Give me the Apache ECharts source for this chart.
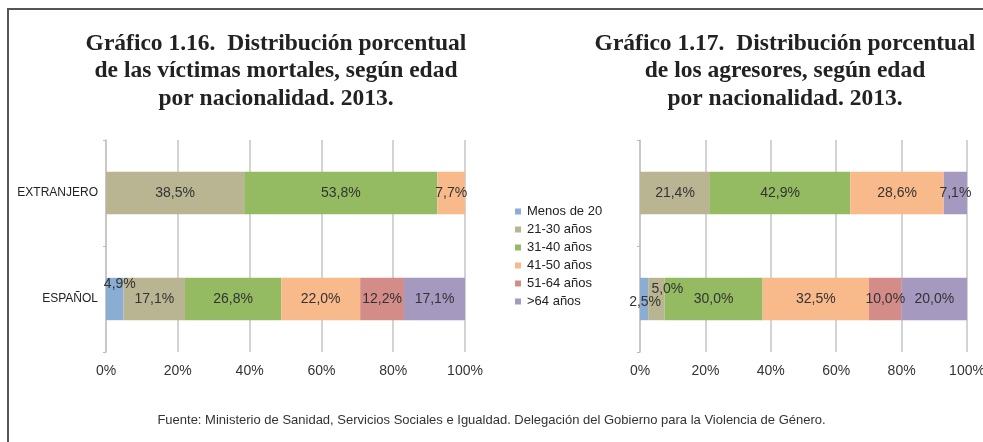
<!DOCTYPE html>
<html>
<head>
<meta charset="utf-8">
<script src="https://cdn.jsdelivr.net/npm/echarts@6/dist/echarts.min.js"></script>
<style>
  html, body { margin: 0; padding: 0; background: #fff; }
  #chart { width: 983px; height: 442px; }
</style>
</head>
<body>
<div id="chart"></div>
<script>
// categories (bottom to top, as ECharts draws a vertical category axis)
const nationalities = ['ESPAÑOL', 'EXTRANJERO'];
const ageGroups = ['Menos de 20', '21-30 años', '31-40 años', '41-50 años', '51-64 años', '>64 años'];
const colors = ['#8aadd4', '#b9b592', '#94bb62', '#f9ba8b', '#d48c89', '#a699c0'];
const xTicks = [0, 20, 40, 60, 80, 100];

// Gráfico 1.16 - víctimas mortales, [ESPAÑOL, EXTRANJERO] per age group
const victimas = [
    [4.9, 0],
    [17.1, 38.5],
    [26.8, 53.8],
    [22.0, 7.7],
    [12.2, 0],
    [17.1, 0]
];

// Gráfico 1.17 - agresores
const agresores = [
    [2.5, 0],
    [5.0, 21.4],
    [30.0, 42.9],
    [32.5, 28.6],
    [10.0, 0],
    [20.0, 7.1]
];

// a few small labels sit off-centre in the original
const labelShift = {
    '0-0-0': [5, -15],
    '1-1-0': [11, -10],
    '1-0-0': [1, 3]
};

const titleFont = '"Liberation Serif", "Times New Roman", serif';
const sansFont = '"Liberation Sans", Arial, sans-serif';

function fmt(v) {
    return v.toFixed(1).replace('.', ',') + '%';
}

function makeSeries(chartIdx, table) {
    let out = [];
    for (let g = 0; g < ageGroups.length; ++g) {
        let data = table[g].map((v, c) => {
            let item = { value: v };
            let key = chartIdx + '-' + g + '-' + c;
            if (labelShift[key]) {
                item.label = { offset: labelShift[key] };
            }
            return item;
        });
        out.push({
            name: ageGroups[g],
            type: 'bar',
            stack: 'total' + chartIdx,
            xAxisIndex: chartIdx,
            yAxisIndex: chartIdx,
            barWidth: '40%',
            itemStyle: { color: colors[g] },
            label: {
                show: true,
                position: 'inside',
                color: '#333',
                fontFamily: sansFont,
                fontSize: 14,
                formatter: p => p.value > 0 ? fmt(p.value) : ''
            },
            emphasis: { disabled: true },
            data: data
        });
    }
    return out;
}

function xAxisFor(idx) {
    return {
        type: 'value',
        gridIndex: idx,
        min: 0,
        max: 100,
        interval: 20,
        axisLine: { show: false },
        axisTick: { show: false },
        axisLabel: {
            formatter: v => xTicks.includes(v) ? v + '%' : '',
            color: '#333',
            fontFamily: sansFont,
            fontSize: 14,
            margin: 12
        },
        splitLine: { lineStyle: { color: '#c4c4c4', width: 1.5 } }
    };
}

function yAxisFor(idx, showLabels) {
    return {
        type: 'category',
        gridIndex: idx,
        data: nationalities,
        axisLine: { show: true, lineStyle: { color: '#c4c4c4', width: 1.5 } },
        axisTick: { show: true, length: 3, lineStyle: { color: '#bbb' } },
        axisLabel: {
            show: showLabels,
            color: '#222',
            fontFamily: sansFont,
            fontSize: 12,
            margin: 8
        }
    };
}

let titleStyle = {
    fontFamily: titleFont,
    fontWeight: 'bold',
    fontSize: 23.5,
    lineHeight: 27.5,
    color: '#222'
};

let myChart = echarts.init(document.getElementById('chart'));
myChart.setOption({
    animation: false,
    title: [{
        text: 'Gráfico 1.16.  Distribución porcentual\nde las víctimas mortales, según edad\npor nacionalidad. 2013.',
        left: 271,
        top: 25,
        textAlign: 'center',
        textStyle: titleStyle
    }, {
        text: 'Gráfico 1.17.  Distribución porcentual\nde los agresores, según edad\npor nacionalidad. 2013.',
        left: 780,
        top: 25,
        textAlign: 'center',
        textStyle: titleStyle
    }],
    legend: {
        orient: 'vertical',
        left: 510,
        top: 200,
        itemWidth: 6,
        itemHeight: 6,
        itemGap: 5,
        icon: 'rect',
        data: ageGroups,
        selectedMode: false,
        textStyle: { color: '#222', fontFamily: sansFont, fontSize: 13, padding: [0, 0, 0, 1] }
    },
    grid: [
        { left: 106, right: 518, top: 140, height: 212, outerBoundsMode: 'none' },
        { left: 640, right: 16, top: 140, height: 212, outerBoundsMode: 'none' }
    ],
    xAxis: [xAxisFor(0), xAxisFor(1)],
    yAxis: [yAxisFor(0, true), yAxisFor(1, false)],
    series: makeSeries(0, victimas).concat(makeSeries(1, agresores)),
    graphic: [{
        type: 'polyline',
        shape: { points: [[8, 442], [8, 9], [983, 9]] },
        style: { stroke: '#555', lineWidth: 2, fill: null },
        silent: true
    }, {
        type: 'text',
        left: 'center',
        top: 414,
        style: {
            text: 'Fuente: Ministerio de Sanidad, Servicios Sociales e Igualdad. Delegación del Gobierno para la Violencia de Género.',
            fontFamily: sansFont,
            fontSize: 13,
            fill: '#333'
        },
        silent: true
    }]
});
</script>
</body>
</html>
